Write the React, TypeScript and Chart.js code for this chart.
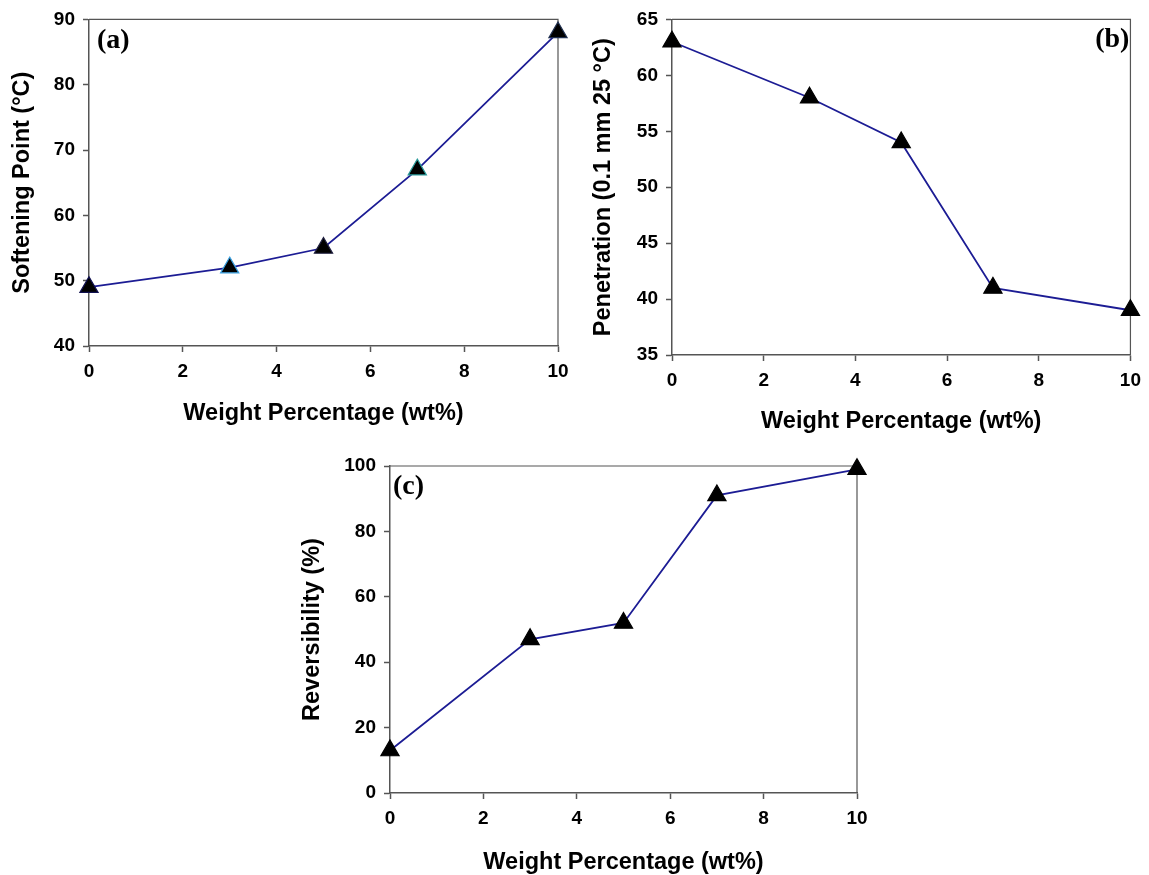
import React, { useEffect, useRef } from "react";
import { Chart, registerables } from "chart.js";
Chart.register(...registerables);

// ---- data ----
const weightPct = [0, 3, 5, 7, 10];
const softeningPoint = [49, 52, 55, 67, 88];
const penetration = [63, 58, 54, 41, 39];
const reversibility = [13, 47, 52, 91, 99];
const xTitleText = "Weight Percentage (wt%)";
const softeningTitle = "Softening Point (°C)";
const penetrationTitle = "Penetration (0.1 mm 25 °C)";
const reversibilityTitle = "Reversibility (%)";

const LINE = "#1c1c94";
const AXIS = "#555555";
const FONT = "'Liberation Sans', Arial, sans-serif";

type PanelProps = {
  left: number; top: number; width: number; height: number;
  pad: { top: number; right: number };
  yWidth: number; xHeight: number;
  values: number[]; pointBorders: string[];
  yMin: number; yMax: number; yStep: number;
  yTitle: string; yTitlePad: number; xTitlePad: number;
  label: string; labelRight: boolean; labelDx: number; labelDy: number;
};

function Panel(p: PanelProps) {
  const ref = useRef<HTMLCanvasElement>(null);
  useEffect(() => {
    if (!ref.current) return;
    const framePlugin = {
      id: "frame",
      beforeDatasetsDraw(chart: any) {
        const { ctx, chartArea: a } = chart;
        ctx.save();
        ctx.strokeStyle = AXIS;
        ctx.lineWidth = 1.2;
        ctx.beginPath();
        ctx.moveTo(a.left, a.top);
        ctx.lineTo(a.right, a.top);
        ctx.lineTo(a.right, a.bottom);
        ctx.stroke();
        ctx.restore();
      },
      afterDraw(chart: any) {
        const { ctx, chartArea: a } = chart;
        ctx.save();
        ctx.fillStyle = "#000";
        ctx.font = "bold 28px 'Liberation Serif', 'Times New Roman', serif";
        ctx.textBaseline = "middle";
        if (p.labelRight) {
          ctx.textAlign = "right";
          ctx.fillText(p.label, a.right - p.labelDx, a.top + p.labelDy);
        } else {
          ctx.textAlign = "left";
          ctx.fillText(p.label, a.left + p.labelDx, a.top + p.labelDy);
        }
        ctx.restore();
      },
    };
    const tickFont = { family: FONT, size: 19, weight: "bold" as const };
    const titleFont = { family: FONT, size: 23.5, weight: "bold" as const, lineHeight: 1 };
    const grid = {
      drawOnChartArea: false, drawTicks: true, tickLength: 6,
      tickColor: AXIS, tickWidth: 1.5,
    };
    const chart = new Chart(ref.current, {
      type: "line",
      data: {
        datasets: [
          {
            data: weightPct.map((x, i) => ({ x, y: p.values[i] })),
            borderColor: LINE,
            borderWidth: 1.8,
            pointStyle: "triangle",
            pointRadius: 10.5,
            pointBackgroundColor: "#000",
            pointBorderColor: p.pointBorders,
            pointBorderWidth: 1.2,
            clip: false as any,
            tension: 0,
          },
        ],
      },
      options: {
        animation: false,
        responsive: false,
        layout: { padding: { top: p.pad.top, right: p.pad.right, left: 0, bottom: 0 } },
        plugins: { legend: { display: false }, tooltip: { enabled: false } },
        scales: {
          x: {
            type: "linear",
            min: 0, max: 10,
            ticks: { stepSize: 2, color: "#000", font: tickFont, padding: 8, maxRotation: 0 },
            grid,
            border: { color: AXIS, width: 1.5 },
            title: { display: true, text: xTitleText, color: "#000", font: titleFont, padding: { top: 0, bottom: p.xTitlePad } },
            afterFit: (s: any) => { s.height = p.xHeight; },
          },
          y: {
            type: "linear",
            min: p.yMin, max: p.yMax,
            ticks: { stepSize: p.yStep, color: "#000", font: tickFont, padding: 8 },
            grid,
            border: { color: AXIS, width: 1.5 },
            title: { display: true, text: p.yTitle, color: "#000", font: titleFont, padding: { top: p.yTitlePad, bottom: 0 } },
            afterFit: (s: any) => { s.width = p.yWidth; },
          },
        },
      },
      plugins: [framePlugin],
    } as any);
    return () => chart.destroy();
  }, []);
  return (
    <canvas
      ref={ref}
      width={p.width}
      height={p.height}
      style={{ position: "absolute", left: p.left, top: p.top, width: p.width, height: p.height }}
    />
  );
}

export default function App() {
  return (
    <div style={{ position: "absolute", left: 0, top: 0, width: 1149, height: 875, background: "#fff" }}>
      <Panel
        left={0} top={0} width={580} height={440}
        pad={{ top: 18, right: 22 }} yWidth={89} xHeight={94}
        values={softeningPoint}
        pointBorders={["#101050", "#3aa0e0", "#202040", "#2a9a9a", "#203050"]}
        yMin={40} yMax={90} yStep={10}
        yTitle={softeningTitle} yTitlePad={10.75} xTitlePad={14.25}
        label="(a)" labelRight={false} labelDx={8} labelDy={21}
      />
      <Panel
        left={580} top={0} width={569} height={440}
        pad={{ top: 16, right: 14 }} yWidth={92} xHeight={85}
        values={penetration}
        pointBorders={["#000", "#000", "#000", "#000", "#000"]}
        yMin={35} yMax={65} yStep={5}
        yTitle={penetrationTitle} yTitlePad={12.25} xTitlePad={6.25}
        label="(b)" labelRight={true} labelDx={1} labelDy={20}
      />
      <Panel
        left={290} top={440} width={590} height={435}
        pad={{ top: 26, right: 23 }} yWidth={100} xHeight={82}
        values={reversibility}
        pointBorders={["#000", "#000", "#000", "#000", "#000"]}
        yMin={0} yMax={100} yStep={20}
        yTitle={reversibilityTitle} yTitlePad={10.75} xTitlePad={0.25}
        label="(c)" labelRight={false} labelDx={3} labelDy={21}
      />
    </div>
  );
}
